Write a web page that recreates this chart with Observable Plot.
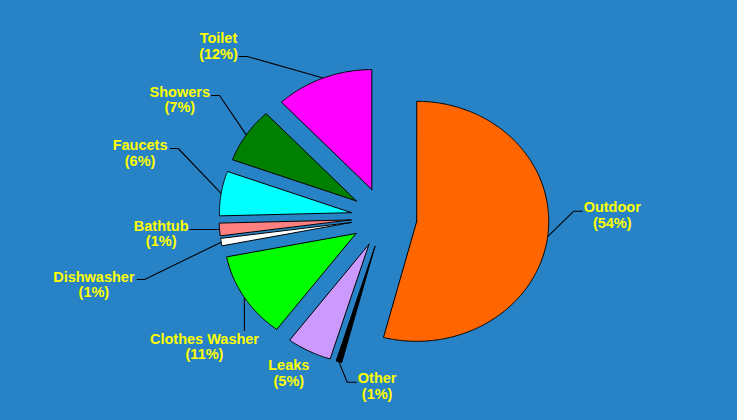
<!DOCTYPE html>
<html>
<head>
<meta charset="utf-8">
<script src="https://cdn.jsdelivr.net/npm/d3@7"></script>
<script src="https://cdn.jsdelivr.net/npm/@observablehq/plot@0.6"></script>
<style>
  html, body { margin: 0; padding: 0; background: #2882C6; }
  #chart { width: 737px; height: 420px; }
</style>
</head>
<body>
<div id="chart"></div>
<script>
// ---- data (clockwise from 12 o'clock) ----
const categories = ["Outdoor", "Other", "Leaks", "Clothes Washer", "Dishwasher", "Bathtub", "Faucets", "Showers", "Toilet"];
const shares = [54.0, 0.7, 5.5, 11.6, 1.0, 1.7, 6.0, 7.4, 12.0];
const labelPercents = [54, 1, 5, 11, 1, 1, 6, 7, 12];
const sliceColors = ["#FF6600", "#000000", "#CC99FF", "#00FF00", "#FFFFFF", "#FF8080", "#00FFFF", "#008000", "#FF00FF"];

// ---- layout (unit-radius coordinates; pie centre at 0,0) ----
const explode = 0.25;
const labelLayout = {
  "Outdoor":        {text: [1.729, 0.021],   leader: [[1.502, 0.0525], [1.438, 0.0525]]},
  "Other":          {text: [-0.052, -1.404], leader: [[-0.208, -1.3725], [-0.279, -1.3725]]},
  "Leaks":          {text: [-0.721, -1.298], leader: []},
  "Clothes Washer": {text: [-1.360, -1.077], leader: [[-1.057, -0.942]]},
  "Dishwasher":     {text: [-2.198, -0.560], leader: [[-1.870, -0.517], [-1.814, -0.517]]},
  "Bathtub":        {text: [-1.688, -0.132], leader: [[-1.471, -0.100]]},
  "Faucets":        {text: [-1.848, 0.5375], leader: [[-1.617, 0.575], [-1.559, 0.575]]},
  "Showers":        {text: [-1.547, 0.982],  leader: [[-1.307, 1.017], [-1.246, 1.017]]},
  "Toilet":         {text: [-1.254, 1.427],  leader: [[-1.100, 1.342], [-1.036, 1.342]]}
};

const W = 737, H = 420;
const cxPx = 383.5, cyPx = 217, rxPx = 132, ryPx = 120;

const rows = categories.map((name, i) => ({name, value: shares[i], pct: labelPercents[i], color: sliceColors[i]}));
const arcs = d3.pie().sort(null).value(d => d.value)(rows);

const slicePts = [];
const leaderPts = [];
const labels = [];
arcs.forEach(a => {
  const m = (a.startAngle + a.endAngle) / 2;
  const ox = explode * Math.sin(m), oy = explode * Math.cos(m);
  const name = a.data.name;
  slicePts.push({name, color: a.data.color, x: ox, y: oy});
  const steps = Math.max(2, Math.ceil((a.endAngle - a.startAngle) / (Math.PI / 360)));
  for (let k = 0; k <= steps; k++) {
    const t = a.startAngle + (a.endAngle - a.startAngle) * k / steps;
    slicePts.push({name, color: a.data.color, x: ox + Math.sin(t), y: oy + Math.cos(t)});
  }
  slicePts.push({name, color: a.data.color, x: ox, y: oy});
  const L = labelLayout[name];
  if (L.leader.length) {
    L.leader.forEach(p => leaderPts.push({name, x: p[0], y: p[1]}));
    leaderPts.push({name, x: ox + Math.sin(m), y: oy + Math.cos(m)});
  }
  labels.push({x: L.text[0], y: L.text[1], text: `${name}\n(${a.data.pct}%)`});
});

const chart = Plot.plot({
  width: W,
  height: H,
  margin: 0,
  x: {domain: [-cxPx / rxPx, (W - cxPx) / rxPx], axis: null},
  y: {domain: [-(H - cyPx) / ryPx, cyPx / ryPx], axis: null},
  color: {type: "identity"},
  style: {background: "#2882C6", overflow: "visible"},
  marks: [
    Plot.line(leaderPts, {x: "x", y: "y", z: "name", stroke: "#000000", strokeWidth: 1.1, curve: "linear"}),
    Plot.line(slicePts, {x: "x", y: "y", z: "name", fill: "color", stroke: "#000000", strokeWidth: 1, strokeLinejoin: "miter", curve: "linear"}),
    Plot.text(labels, {
      x: "x", y: "y", text: "text",
      fill: "#FFFF00",
      fontSize: 14.5,
      fontWeight: "bold",
      fontFamily: "'Liberation Sans', Arial, sans-serif",
      lineHeight: 1.07,
      lineAnchor: "middle",
      textAnchor: "middle"
    })
  ]
});
document.getElementById("chart").appendChild(chart);
</script>
</body>
</html>
